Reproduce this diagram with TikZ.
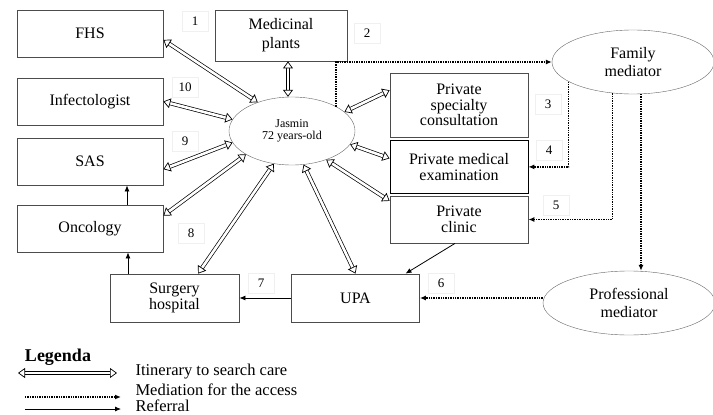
\documentclass[tikz,border=0pt]{standalone}
\usepackage{fontspec}
\setmainfont{Liberation Serif}
\usetikzlibrary{shapes.geometric,arrows.meta}

\begin{document}
\begin{tikzpicture}[x=1pt,y=-1pt,
    box/.style={draw=black!70, thick, align=center, inner sep=1pt,
        font=\fontsize{16}{15.5}\selectfont},
    oval/.style={draw=black!60, ellipse, align=center, inner sep=0pt,
        font=\fontsize{16}{18}\selectfont},
    itinerary/.style={double=white, double distance=2.6pt, line width=0.7pt,
        {Triangle[length=7pt,width=10pt,fill=white,line width=0.7pt]}-{Triangle[length=7pt,width=10pt,fill=white,line width=0.7pt]}},
    mediation/.style={densely dotted, line width=1.4pt, -{Latex[length=6pt,width=5pt]}},
    referral/.style={thick, -{Latex[length=6pt,width=5pt]}},
    num/.style={draw=black!6, minimum width=26pt, minimum height=20pt,
        font=\fontsize{13}{13}\selectfont}]
    \useasboundingbox (0,0) rectangle (713,415);

    % boxes
    \node[box, minimum width=146pt, minimum height=47pt] (fhs) at (90,33.5) {FHS};
    \node[box, minimum width=132pt, minimum height=51pt,
        font=\fontsize{16}{19}\selectfont] (plants) at (281,35.5) {Medicinal\\plants};
    \node[box, minimum width=146pt, minimum height=47pt] (infect) at (90,101.5) {Infectologist};
    \node[box, minimum width=146pt, minimum height=47pt] (sas) at (90,161.5) {SAS};
    \node[box, minimum width=146pt, minimum height=47pt] (onco) at (90,228.5) {Oncology};
    \node[box, minimum width=129pt, minimum height=48pt] (surgery) at (174.5,298) {Surgery\\hospital};
    \node[box, minimum width=128pt, minimum height=48pt] (upa) at (355.5,298) {UPA};
    \node[box, minimum width=138pt, minimum height=64pt] (spec) at (459,105) {Private\\specialty\\consultation};
    \node[box, draw=black, minimum width=138pt, minimum height=53pt,
        anchor=north] (exam) at (459,140) {Private medical\\examination};
    \node[box, minimum width=138pt, minimum height=47pt] (clinic) at (459,219.5) {Private\\clinic};

    % people
    \node[oval, minimum width=126pt, minimum height=68pt,
        font=\fontsize{12}{12}\selectfont] (jasmin) at (292,131) {Jasmin\\72 years-old};
    \node[oval, minimum width=162pt, minimum height=64pt] (family) at (633,62) {Family\\mediator};
    \node[oval, minimum width=172pt, minimum height=64pt] (prof) at (629,303) {Professional\\mediator};

    % numbers
    \node[num] (n1) at (195,21) {1};
    \node[num] (n2) at (367,33) {2};
    \node[num] (n3) at (548,104) {3};
    \node[num] (n4) at (549,150) {4};
    \node[num] (n5) at (556,205) {5};
    \node[num] (n6) at (441,283) {6};
    \node[num] (n7) at (261,283) {7};
    \node[num] (n8) at (191,233) {8};
    \node[num] (n9) at (185,141) {9};
    \node[num] (n10) at (185,87) {10};

    % itinerary to search care
    \draw[itinerary] (fhs.-5) -- (jasmin.140);
    \draw[itinerary] ([xshift=-4pt]jasmin.north) -- ([xshift=-4pt]jasmin.north |- plants.south);
    \draw[itinerary] (infect.east) -- (jasmin.169);
    \draw[itinerary] (sas.-6) -- (jasmin.191);
    \draw[itinerary] (onco.10) -- (jasmin.207);
    \draw[itinerary] (surgery.46) -- (jasmin.241);
    \draw[itinerary] (upa.north) -- (jasmin.289);
    \draw[itinerary] (clinic.165) -- (jasmin.320);
    \draw[itinerary] (exam.173) -- (jasmin.347);
    \draw[itinerary] (spec.168) -- (jasmin.20);

    % mediation for the access
    \draw[mediation] (jasmin.29) |- (family.west);
    \draw[mediation] (family.197) |- (exam.east);
    \draw[mediation] (family.237) |- (clinic.east);
    \draw[mediation] (family.284) -- (family.284 |- prof.north);
    \draw[mediation] (prof.west |- upa.east) -- (upa.east);

    % referral
    \draw[referral] ([xshift=37pt]onco.north) -- ([xshift=37pt]sas.south);
    \draw[referral] ([xshift=-46.5pt]surgery.north) -- ([xshift=-46.5pt]surgery.north |- onco.south);
    \draw[referral] (upa.west) -- (surgery.east);
    \draw[referral] ([xshift=-4pt]clinic.south) -- ([xshift=50pt]upa.north);

    % legend
    \node[font=\fontsize{18}{18}\selectfont\bfseries] (leg) at (58,357) {Legenda};
    \coordinate (l1a) at (18,373);
    \coordinate (l1b) at (117,373);
    \coordinate (l2a) at (25,397);
    \coordinate (l2b) at (121,397);
    \coordinate (l3a) at (25,409);
    \coordinate (l3b) at (121,409);
    \draw[itinerary] (l1a) -- (l1b);
    \draw[mediation] (l2a) -- (l2b);
    \draw[referral] (l3a) -- (l3b);
    \node[anchor=west, font=\fontsize{16.5}{15}\selectfont] (t1) at (132,372) {Itinerary to search care};
    \node[anchor=west, font=\fontsize{16.5}{15}\selectfont] (t2) at (132,390) {Mediation for the access};
    \node[anchor=west, font=\fontsize{16.5}{15}\selectfont] (t3) at (132,406) {Referral};
\end{tikzpicture}
\end{document}
